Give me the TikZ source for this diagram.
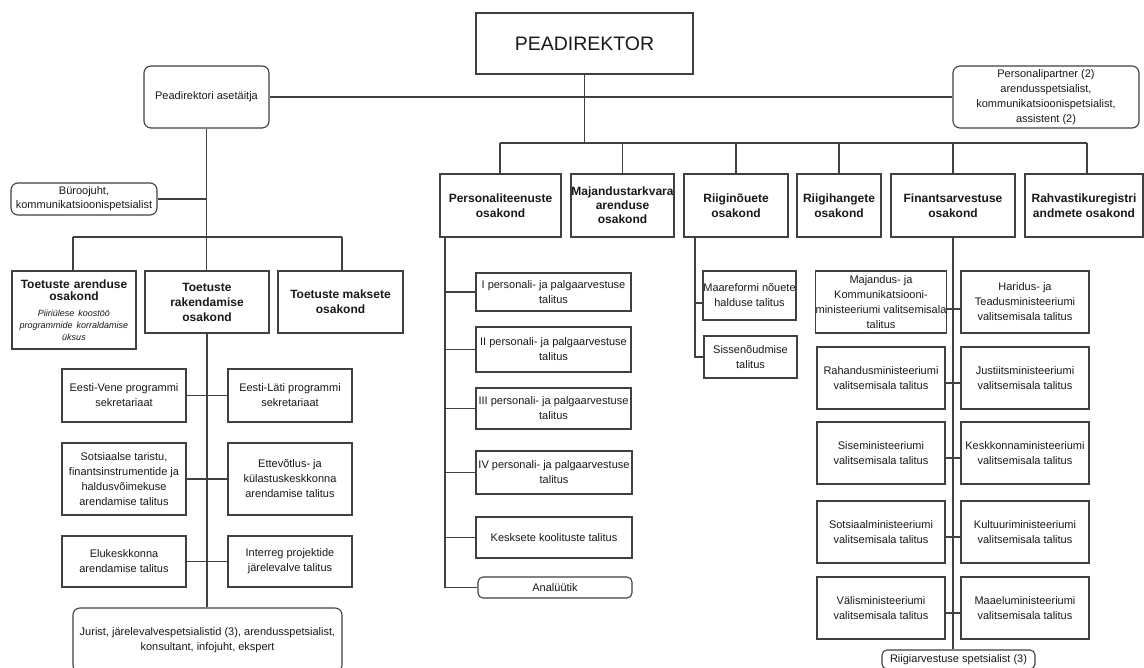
\documentclass[tikz,border=0pt]{standalone}
\usepackage{fontspec}
\setmainfont{Liberation Sans}
\begin{document}
\begin{tikzpicture}[x=1pt,y=-1pt,
  con/.style={draw=black!75, line width=1.1pt},
  box/.style={draw=black!75, line width=1.1pt, rectangle, inner sep=0pt, align=center, text=black!90, font=\fontsize{11}{15}\selectfont},
  rbox/.style={box, rounded corners=7pt},
  dept/.style={box, font=\fontsize{12}{15}\selectfont\bfseries}]
\useasboundingbox (0,0) rectangle (1144,668);
\clip (0,0) rectangle (1144,668);
\fill[white] (0,0) rectangle (1144,668);

% top level
\node[box, minimum width=217pt, minimum height=61pt, font=\fontsize{19.5}{22}\selectfont] (pd) at (584.5,43.5) {PEADIREKTOR};
\node[rbox, minimum width=125pt, minimum height=62pt] (aset) at (206.5,97) {Peadirektori asetäitja};
\node[rbox, minimum width=186pt, minimum height=62pt] (pp) at (1046,97) {Personalipartner (2)\\arendusspetsialist,\\kommunikatsioonispetsialist,\\assistent (2)};
\node[rbox, minimum width=146pt, minimum height=32pt, font=\fontsize{11}{14}\selectfont] (buro) at (84,199) {Büroojuht,\\kommunikatsioonispetsialist};

% departments
\node[dept, minimum width=121pt, minimum height=63pt] (pers) at (500.5,205.5) {Personaliteenuste\\osakond};
\node[dept, minimum width=103pt, minimum height=63pt, font=\fontsize{12}{14}\selectfont\bfseries] (maj) at (622.5,205.5) {Majandustarkvara\\arenduse\\osakond};
\node[dept, minimum width=104pt, minimum height=63pt] (rn) at (736,205.5) {Riiginõuete\\osakond};
\node[dept, minimum width=84pt, minimum height=63pt] (rh) at (839,205.5) {Riigihangete\\osakond};
\node[dept, minimum width=124pt, minimum height=63pt] (fin) at (953,205.5) {Finantsarvestuse\\osakond};
\node[dept, minimum width=118pt, minimum height=63pt] (rahv) at (1084,205.5) {Rahvastikuregistri\\andmete osakond};

% left branch departments
\node[box, text width=124pt, minimum height=78pt, font=\fontsize{12}{11.5}\selectfont\bfseries] (ta) at (74,310)
  {Toetuste arenduse\\osakond\par\vspace{5pt}{\fontsize{9}{11.7}\selectfont\mdseries\itshape Piiriülese koostöö\\programmide korraldamise\\üksus\par}};
\node[dept, minimum width=124pt, minimum height=62pt] (rak) at (207,302) {Toetuste\\rakendamise\\osakond};
\node[dept, minimum width=125pt, minimum height=62pt] (tm) at (340.5,302) {Toetuste maksete\\osakond};

\node[box, minimum width=124pt, minimum height=53pt] (ev) at (124,395.5) {Eesti-Vene programmi\\sekretariaat};
\node[box, minimum width=124pt, minimum height=53pt] (el) at (290,395.5) {Eesti-Läti programmi\\sekretariaat};
\node[box, minimum width=124pt, minimum height=72pt] (so) at (124,479) {Sotsiaalse taristu,\\finantsinstrumentide ja\\haldusvõimekuse\\arendamise talitus};
\node[box, minimum width=124pt, minimum height=72pt] (et) at (290,479) {Ettevõtlus- ja\\külastuskeskkonna\\arendamise talitus};
\node[box, minimum width=124pt, minimum height=51pt] (ek) at (124,561.5) {Elukeskkonna\\arendamise talitus};
\node[box, minimum width=124pt, minimum height=51pt] (ir) at (290,561.5) {Interreg projektide\\järelevalve talitus};
\node[rbox, minimum width=269pt, minimum height=64pt] (jur) at (207.5,640) {Jurist, järelevalvespetsialistid (3), arendusspetsialist,\\konsultant, infojuht, ekspert};

% Personaliteenuste children
\node[box, minimum width=155pt, minimum height=38pt] (p1) at (553.5,292) {I personali- ja palgaarvestuse\\talitus};
\node[box, minimum width=155pt, minimum height=45pt] (p2) at (553.5,349.5) {II personali- ja palgaarvestuse\\talitus};
\node[box, minimum width=155pt, minimum height=41pt] (p3) at (553.5,408.5) {III personali- ja palgaarvestuse\\talitus};
\node[box, minimum width=156pt, minimum height=43pt] (p4) at (554,472.5) {IV personali- ja palgaarvestuse\\talitus};
\node[box, minimum width=156pt, minimum height=41pt] (kk) at (554,537.5) {Kesksete koolituste talitus};
\node[rbox, minimum width=154pt, minimum height=21pt, rounded corners=5pt] (an) at (555,587.5) {Analüütik};

% Riiginõuete children
\node[box, minimum width=93pt, minimum height=49pt] (mr) at (749.5,295.5) {Maareformi nõuete\\halduse talitus};
\node[box, minimum width=93pt, minimum height=42pt] (si) at (750.5,357) {Sissenõudmise\\talitus};

% Finantsarvestuse children
\node[box, minimum width=128pt, minimum height=62pt] (f1) at (881,302) {Majandus- ja\\Kommunikatsiooni-\\ministeeriumi valitsemisala\\talitus};
\node[box, minimum width=128pt, minimum height=62pt] (g1) at (1025,302) {Haridus- ja\\Teadusministeeriumi\\valitsemisala talitus};
\node[box, minimum width=128pt, minimum height=62pt] (f2) at (881,378) {Rahandusministeeriumi\\valitsemisala talitus};
\node[box, minimum width=128pt, minimum height=62pt] (g2) at (1025,378) {Justiitsministeeriumi\\valitsemisala talitus};
\node[box, minimum width=128pt, minimum height=62pt] (f3) at (881,453) {Siseministeeriumi\\valitsemisala talitus};
\node[box, minimum width=128pt, minimum height=62pt] (g3) at (1025,453) {Keskkonnaministeeriumi\\valitsemisala talitus};
\node[box, minimum width=128pt, minimum height=62pt] (f4) at (881,532) {Sotsiaalministeeriumi\\valitsemisala talitus};
\node[box, minimum width=128pt, minimum height=62pt] (g4) at (1025,532) {Kultuuriministeeriumi\\valitsemisala talitus};
\node[box, minimum width=128pt, minimum height=62pt] (f5) at (881,608) {Välisministeeriumi\\valitsemisala talitus};
\node[box, minimum width=128pt, minimum height=62pt] (g5) at (1025,608) {Maaeluministeeriumi\\valitsemisala talitus};
\node[rbox, minimum width=153pt, minimum height=19pt, rounded corners=5pt] (ra) at (958.5,659.5) {Riigiarvestuse spetsialist (3)};

% connectors top
\draw[con] (aset.east) -- (pp.west);
\coordinate (bL) at (500,143);
\coordinate (bR) at (1087,143);
\draw[con] (pd.south) -- (pd.south |- bL);
\draw[con] (bL) -- (bR);
\draw[con] (bL) -- (bL |- pers.north);
\draw[con] (maj.north |- bL) -- (maj.north);
\draw[con] (rn.north |- bL) -- (rn.north);
\draw[con] (rh.north |- bL) -- (rh.north);
\draw[con] (fin.north |- bL) -- (fin.north);
\draw[con] (bR) -- (bR |- rahv.north);

% left branch
\coordinate (lL) at (73,237);
\coordinate (lR) at (342,237);
\draw[con] (aset.south) -- (aset.south |- rak.north);
\draw[con] (buro.east) -- (buro.east -| aset.south);
\draw[con] (lL) -- (lR);
\draw[con] (lL) -- (lL |- ta.north);
\draw[con] (lR) -- (lR |- tm.north);
\draw[con] (rak.south) -- (rak.south |- jur.north);
\draw[con] (ev.east) -- (el.west);
\draw[con] (so.east) -- (et.west);
\draw[con] (ek.east) -- (ir.west);

% Personaliteenuste
\coordinate (pv) at (445,237);
\draw[con] (pv) |- (an.west);
\foreach \n in {p1,p2,p3,p4,kk} \draw[con] (\n.west) -- (\n.west -| pv);

% Riiginõuete
\coordinate (rv) at (695,237);
\draw[con] (rv) |- (si.west);
\draw[con] ([yshift=-7.5pt]mr.west) -- ([yshift=-7.5pt]mr.west -| rv);

% Finantsarvestuse
\draw[con] (fin.south) -- (fin.south |- ra.north);
\draw[con] ([yshift=-7pt]f1.east) -- ([yshift=-7pt]g1.west);
\foreach \a/\b in {f2/g2,f3/g3,f4/g4,f5/g5} \draw[con] ([yshift=-5pt]\a.east) -- ([yshift=-5pt]\b.west);
\end{tikzpicture}
\end{document}
